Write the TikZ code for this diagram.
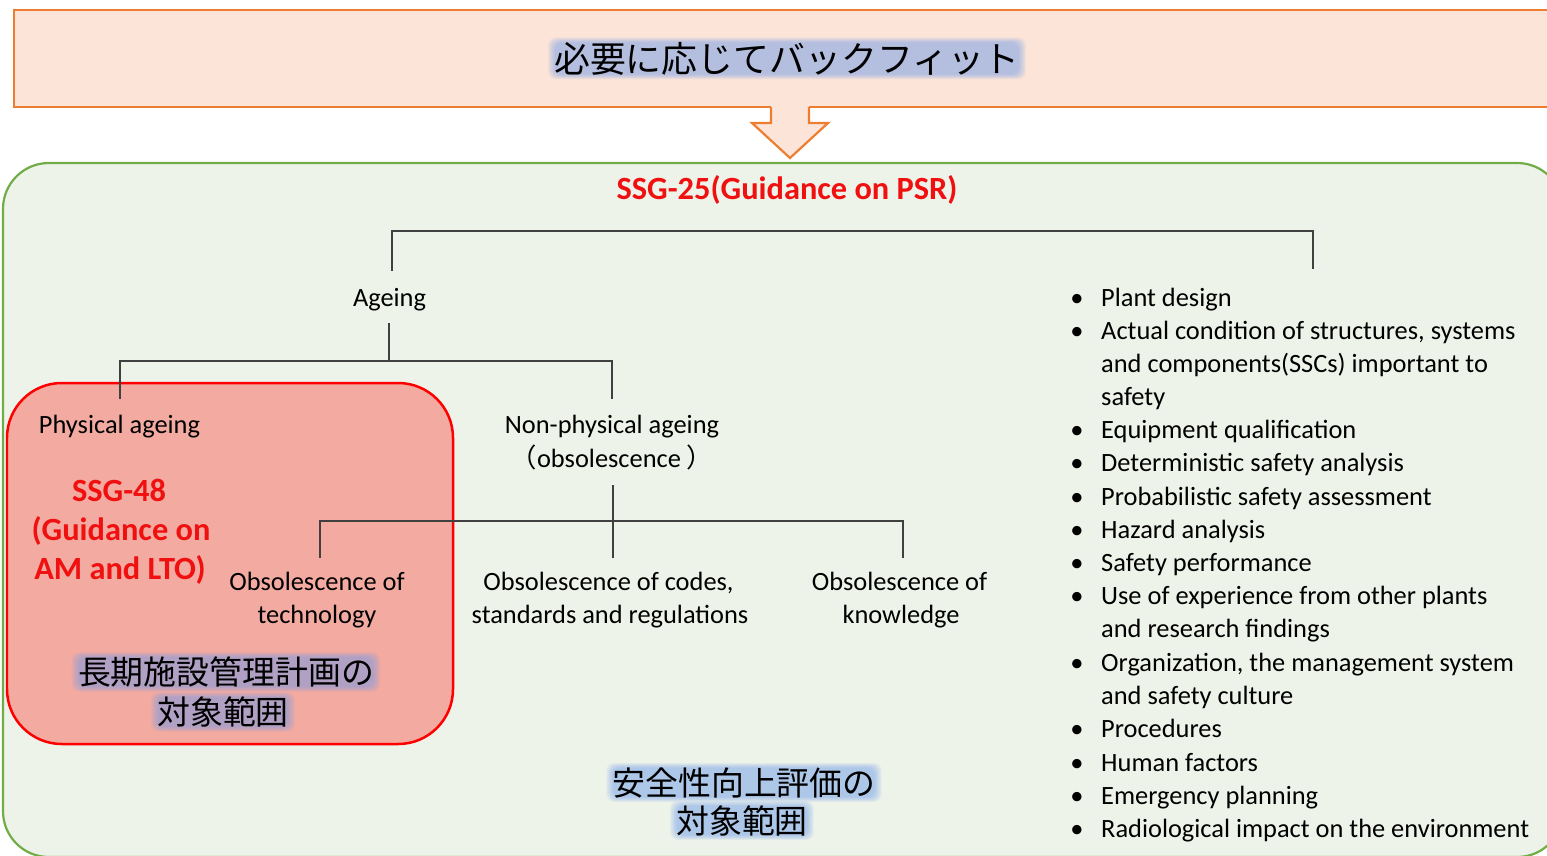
\documentclass[tikz,border=0pt]{standalone}
\usepackage{fontspec}
\setmainfont{Carlito}
\newfontfamily\jp{Noto Sans CJK JP}
\usetikzlibrary{calc}
\definecolor{orline}{HTML}{ED7D31}
\definecolor{orfill}{HTML}{FCE5D8}
\definecolor{grline}{HTML}{70AD47}
\definecolor{grfill}{HTML}{EEF3E9}
\definecolor{rdfill}{HTML}{F2AAA1}
\definecolor{rdline}{HTML}{FF0000}
\definecolor{treec}{HTML}{404040}
\definecolor{glowc}{HTML}{6E9CF0}
\definecolor{ssgred}{HTML}{F01010}
\pgfdeclarelayer{boxes}
\pgfdeclarelayer{glow}
\pgfsetlayers{boxes,glow,main}
\tikzset{
 body/.style={font=\fontsize{26.5}{33}\selectfont, inner sep=0, anchor=base},
 listline/.style={body, anchor=base west},
 redbold/.style={font=\fontsize{32.5}{39}\selectfont\bfseries, text=ssgred, inner sep=0, anchor=base},
 jpbig/.style={font=\jp\fontsize{33}{39}\selectfont, inner sep=0, anchor=base},
 jptitle/.style={font=\jp\fontsize{36}{40}\selectfont, inner sep=0, anchor=base},
 tree/.style={draw=treec, line width=1.4},
 glowfill/.style={fill=glowc, opacity=0.08, rounded corners=8},
}
\newcommand\glowbox[1]{%
  \begin{pgfonlayer}{glow}
  \foreach \e in {-1,0,1,...,6}{%
    \fill[glowfill] ($(#1.south west)+(-\e,\e*0.7)$) rectangle ($(#1.north east)+(\e,-\e*0.7)$);}
  \end{pgfonlayer}}
\begin{document}
\begin{tikzpicture}[x=1bp,y=-1bp]
\useasboundingbox (0,0) rectangle (1547,855);
\clip (0,0) rectangle (1547,855);
\begin{pgfonlayer}{boxes}
% top banner
\draw[draw=orline, fill=orfill, line width=2.5] (14,10) rectangle (1600,107);
% hollow arrow
\fill[orfill] (771,104) rectangle (809,110);
\draw[orline, fill=orfill, line width=2.2, line join=miter]
  (771,107) -- (771,123) -- (752,123) -- (790,158) -- (828,123) -- (809,123) -- (809,107);
% green area
\draw[grline, fill=grfill, line width=2.2, rounded corners=46] (3,163) rectangle (1563,857);
% red area
\draw[rdline, fill=rdfill, line width=2.5, rounded corners=55] (7,383) rectangle (453,744);
\end{pgfonlayer}

% banner title
\node[jptitle] (title) at (787,72) {必要に応じてバックフィット};
\glowbox{title}

% titles
\node[redbold] (ssg25) at (787,199) {SSG-25(Guidance on PSR)};
\node[redbold] (ssg48a) at (119,501) {SSG-48};
\node[redbold] (ssg48b) at (121,540) {(Guidance on};
\node[redbold] (ssg48c) at (120,579) {AM and LTO)};

% tree labels
\node[body] (ageing) at (389.5,306) {Ageing};
\node[body] (phys) at (119.5,433) {Physical ageing};
\node[body] (nonp) at (612,433) {Non-physical ageing};
\node[body] (obs) at (612,467) {{\jp （}obsolescence {\jp ）}};
\node[body] (tech1) at (317,590) {Obsolescence of};
\node[body] (tech2) at (317,623) {technology};
\node[body] (codes1) at (608.5,590) {Obsolescence of codes,};
\node[body] (codes2) at (610,623) {standards and regulations};
\node[body] (know1) at (899.5,590) {Obsolescence of};
\node[body] (know2) at (901,623) {knowledge};

% tree connectors
\coordinate (ag-up) at (392,271);
\coordinate (list-up) at (1313,269);
\coordinate (bar1) at (0,231);
\draw[tree] (ag-up) -- (ag-up |- bar1) -- (list-up |- bar1) -- (list-up);
\coordinate (ag-down) at (389,323);
\coordinate (bar2) at (0,361);
\coordinate (phys-up) at (120,399);
\coordinate (nonp-up) at (612,399);
\draw[tree] (ag-down) -- (ag-down |- bar2);
\draw[tree] (phys-up) -- (phys-up |- bar2) -- (nonp-up |- bar2) -- (nonp-up);
\coordinate (np-down) at (613,485);
\coordinate (bar3) at (0,521);
\coordinate (tech-up) at (320,558);
\coordinate (codes-up) at (613,558);
\coordinate (know-up) at (903,558);
\draw[tree] (np-down) -- (codes-up);
\draw[tree] (tech-up) -- (tech-up |- bar3) -- (know-up |- bar3) -- (know-up);

% Japanese scope labels
\node[jpbig] (ltmp1) at (226,684.5) {長期施設管理計画の};
\node[jpbig] (ltmp2) at (223,724.5) {対象範囲};
\node[jpbig] (psr1) at (744,795) {安全性向上評価の};
\node[jpbig] (psr2) at (742,833) {対象範囲};
\glowbox{ltmp1}
\glowbox{ltmp2}
\glowbox{psr1}
\glowbox{psr2}

% bullet list
\foreach \y/\t [count=\i] in {306/{Plant design},
  339/{Actual condition of structures, systems},
  372/{and components(SSCs) important to},
  405/{safety},
  438/{Equipment qualification},
  471/{Deterministic safety analysis},
  505/{Probabilistic safety assessment},
  538/{Hazard analysis},
  571/{Safety performance},
  604/{Use of experience from other plants},
  637/{and research findings},
  671/{Organization, the management system},
  704/{and safety culture},
  737/{Procedures},
  771/{Human factors},
  804/{Emergency planning},
  837/{Radiological impact on the environment}}{
  \node[listline] (item\i) at (1101,\y) {\t};}
\foreach \y [count=\i] in {306,339,438,471,505,538,571,604,671,737,771,804,837}{
  \node[body] (bul\i) at (1077,\y) {\textbullet};}
\end{tikzpicture}
\end{document}
